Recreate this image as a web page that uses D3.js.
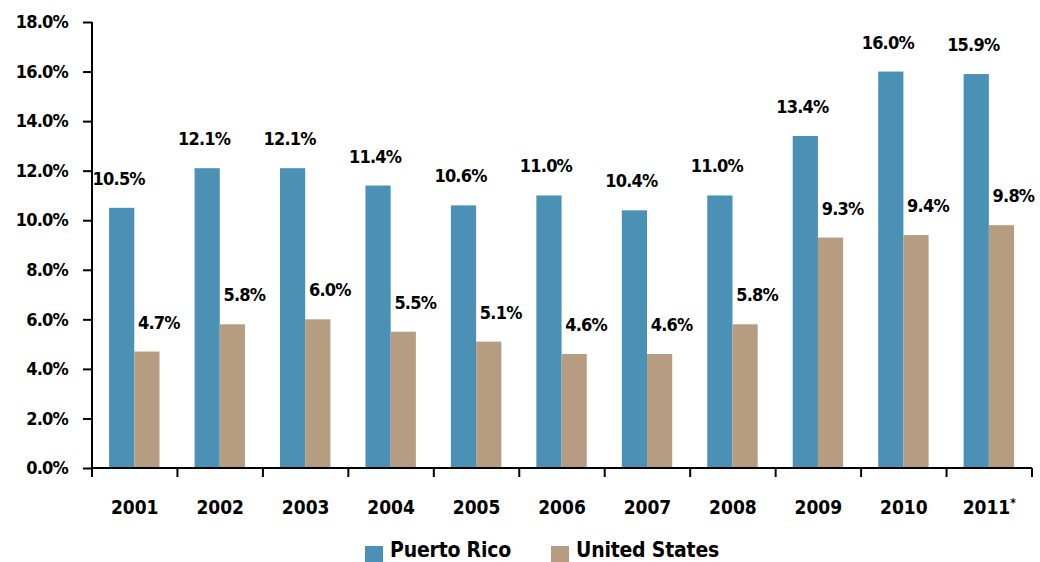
<!DOCTYPE html>
<html>
<head>
<meta charset="utf-8">
<script src="https://cdn.jsdelivr.net/npm/d3@7"></script>
<style>
  body { margin: 0; background: #fff; }
  text { font-family: "DejaVu Sans Condensed", "DejaVu Sans", Verdana, sans-serif; font-stretch: condensed; fill: #000; }
</style>
</head>
<body>
<div id="wrapper"></div>
<script>
// data
const years = ["2001", "2002", "2003", "2004", "2005", "2006", "2007", "2008", "2009", "2010", "2011"]
const seriesNames = ["Puerto Rico", "United States"]
const puertoRico = [10.5, 12.1, 12.1, 11.4, 10.6, 11.0, 10.4, 11.0, 13.4, 16.0, 15.9]
const unitedStates = [4.7, 5.8, 6.0, 5.5, 5.1, 4.6, 4.6, 5.8, 9.3, 9.4, 9.8]
const yTicks = [0, 2, 4, 6, 8, 10, 12, 14, 16, 18]
const colors = ["#4b91b5", "#b69c81"]

const dataset = years.map((y, i) => ({
  year: y,
  values: [
    { key: seriesNames[0], value: puertoRico[i] },
    { key: seriesNames[1], value: unitedStates[i] }
  ]
}))

// mitat
const dimensions = {
  width: 1040,
  height: 562,
  margin: { top: 22, right: 8, bottom: 94, left: 92 }
}
dimensions.boundedWidth = dimensions.width - dimensions.margin.left - dimensions.margin.right
dimensions.boundedHeight = dimensions.height - dimensions.margin.top - dimensions.margin.bottom

const wrapper = d3.select("#wrapper")
  .append("svg")
  .attr("width", dimensions.width)
  .attr("height", dimensions.height)

const bounds = wrapper.append("g")
  .attr("transform", `translate(${dimensions.margin.left},${dimensions.margin.top})`)

// skaalat
const x0 = d3.scaleBand()
  .domain(years)
  .range([0, dimensions.boundedWidth])
  .padding(0)

const bw = x0.bandwidth()
const x1 = d3.scaleBand()
  .domain(seriesNames)
  .range([bw * 0.2, bw * 0.79])
  .padding(0)

const yScale = d3.scaleLinear()
  .domain([0, 18])
  .range([dimensions.boundedHeight, 0])

const colorScale = d3.scaleOrdinal().domain(seriesNames).range(colors)

// palkit
const groups = bounds.selectAll(".group")
  .data(dataset)
  .enter()
  .append("g")
  .attr("transform", d => `translate(${x0(d.year)},0)`)

groups.selectAll("rect")
  .data(d => d.values)
  .enter()
  .append("rect")
  .attr("x", d => x1(d.key))
  .attr("y", d => yScale(d.value))
  .attr("width", x1.bandwidth())
  .attr("height", d => dimensions.boundedHeight - yScale(d.value))
  .attr("fill", d => colorScale(d.key))

// arvot
const labelShift = { "Puerto Rico": -3, "United States": 12 }
groups.selectAll(".val")
  .data(d => d.values)
  .enter()
  .append("text")
  .attr("class", "val")
  .attr("x", d => x1(d.key) + x1.bandwidth() / 2 + labelShift[d.key])
  .attr("y", d => yScale(d.value) - 23)
  .attr("text-anchor", "middle")
  .attr("font-size", "18px")
  .attr("font-weight", "bold")
  .attr("letter-spacing", "-0.8px")
  .text(d => d.value.toFixed(1) + "%")

// akselit
const yAxis = bounds.append("g")
  .call(d3.axisLeft(yScale).tickValues(yTicks).tickSize(9).tickPadding(15)
    .tickFormat(d => d.toFixed(1) + "%"))
yAxis.select(".domain").attr("stroke", "#000").attr("stroke-width", 2)
  .attr("d", `M0,0V${dimensions.boundedHeight}`)
yAxis.selectAll(".tick line").attr("stroke", "#000").attr("stroke-width", 2)
yAxis.selectAll(".tick text")
  .attr("font-size", "18px")
  .attr("font-weight", "bold")
  .attr("letter-spacing", "-0.8px")
  .attr("font-family", null)

const xAxis = bounds.append("g")
  .attr("transform", `translate(0,${dimensions.boundedHeight})`)
xAxis.append("line")
  .attr("x1", 0).attr("x2", dimensions.boundedWidth)
  .attr("stroke", "#000").attr("stroke-width", 2)
xAxis.selectAll(".xt")
  .data(years.concat(["end"]))
  .enter()
  .append("line")
  .attr("x1", (d, i) => i < years.length ? x0(d) : dimensions.boundedWidth)
  .attr("x2", (d, i) => i < years.length ? x0(d) : dimensions.boundedWidth)
  .attr("y1", 0).attr("y2", 9)
  .attr("stroke", "#000").attr("stroke-width", 2)

const xl = xAxis.selectAll(".xl")
  .data(years)
  .enter()
  .append("text")
  .attr("x", d => x0(d) + bw / 2)
  .attr("y", 46)
  .attr("text-anchor", "middle")
  .attr("font-size", "19px")
  .attr("font-weight", "bold")
  .text(d => d)
xl.filter(d => d === "2011")
  .append("tspan")
  .attr("font-size", "12px")
  .attr("dy", -7)
  .text("*")

// selite
const legend = wrapper.append("g")
  .attr("transform", "translate(365,546)")
const legendX = [0, 186]
seriesNames.forEach((name, i) => {
  const item = legend.append("g").attr("transform", `translate(${legendX[i]},0)`)
  item.append("rect")
    .attr("width", 18).attr("height", 16)
    .attr("fill", colors[i])
  item.append("text")
    .attr("x", 25)
    .attr("y", 11)
    .attr("font-size", "21px")
    .attr("font-weight", "bold")
    .attr("letter-spacing", "-0.2px")
    .text(name)
})
</script>
</body>
</html>
